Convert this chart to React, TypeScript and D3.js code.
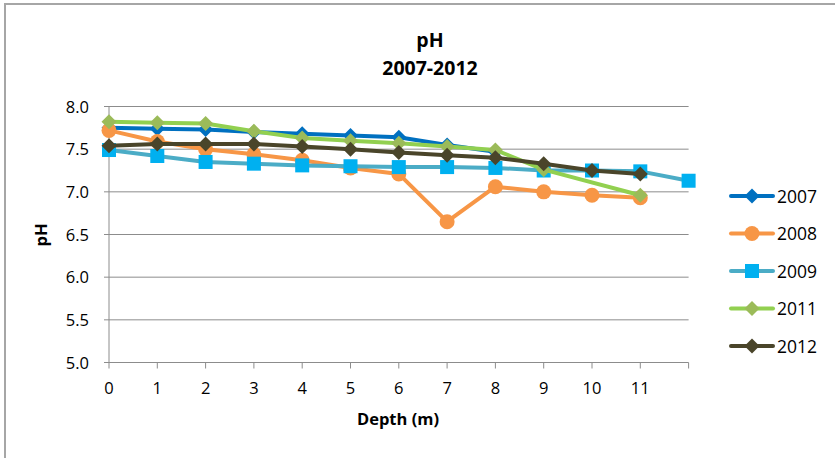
import React from "react";
import * as d3 from "d3";

const depths = ["0", "1", "2", "3", "4", "5", "6", "7", "8", "9", "10", "11", ""];
const yTicks = [5.0, 5.5, 6.0, 6.5, 7.0, 7.5, 8.0];
const ph2007: (number | null)[] = [7.75, 7.74, 7.73, 7.7, 7.68, 7.66, 7.64, 7.55, 7.47];
const ph2008: (number | null)[] = [7.72, 7.59, 7.5, 7.44, 7.37, 7.28, 7.21, 6.65, 7.06, 7.0, 6.96, 6.93];
const ph2009: (number | null)[] = [7.49, 7.42, 7.35, 7.33, 7.31, 7.3, 7.29, 7.29, 7.28, 7.25, 7.25, 7.24, 7.13];
const ph2011: (number | null)[] = [7.82, 7.81, 7.8, 7.71, 7.63, 7.6, 7.57, 7.53, 7.49, 7.26, null, 6.96];
const ph2012: (number | null)[] = [7.54, 7.56, 7.56, 7.56, 7.53, 7.5, 7.46, 7.43, 7.4, 7.33, 7.25, 7.21];

const seriesNames = ["2007", "2008", "2009", "2011", "2012"];
const seriesData = [ph2007, ph2008, ph2009, ph2011, ph2012];
const lineColors = ["#0070C0", "#F79646", "#4BACC6", "#92D050", "#4A452A"];
const markerColors = ["#0070C0", "#F79646", "#00B0F0", "#9BBB59", "#4A452A"];
const markerShapes = ["diamond", "circle", "square", "diamond", "diamond"];

const FONT = "'Open Sans', sans-serif";

function Marker({ shape, x, y, color }: { shape: string; x: number; y: number; color: string }) {
  if (shape === "circle") return <circle cx={x} cy={y} r={7.5} fill={color} />;
  if (shape === "square") return <rect x={x - 7} y={y - 7} width={14} height={14} fill={color} />;
  const s = 7.5;
  return <path d={`M${x},${y - s}L${x + s},${y}L${x},${y + s}L${x - s},${y}Z`} fill={color} />;
}

export default function App() {
  const W = 835, H = 458;
  const x0 = 109, xStep = 48.3;
  const x = d3.scaleLinear().domain([0, depths.length - 1]).range([x0, x0 + xStep * (depths.length - 1)]);
  const y = d3.scaleLinear().domain([5, 8]).range([362.5, 106.5]);
  const xEnd = x(depths.length - 1);

  const line = d3
    .line<[number, number | null]>()
    .x((d) => x(d[0]))
    .y((d) => y(d[1] as number));

  return (
    <svg width={W} height={H} style={{ position: "absolute", left: 0, top: 0 }} fontFamily={FONT}>
      <rect x={0} y={0} width={W} height={H} fill="#fff" />
      <rect x={5} y={4} width={W + 10} height={H + 10} fill="none" stroke="#a6a6a6" strokeWidth={2} />
      <text x={430} y={47} textAnchor="middle" fontSize={19.5} fontWeight="bold" fill="#000">pH</text>
      <text x={430} y={75} textAnchor="middle" fontSize={19.5} fontWeight="bold" fill="#000">2007-2012</text>

      {yTicks.map((t) => (
        <g key={t}>
          <line x1={x0 - 5} x2={t === 5 ? x0 : xEnd} y1={y(t)} y2={y(t)} stroke="#8c8c8c" strokeWidth={1} />
          <text x={89} y={y(t) + 6} textAnchor="end" fontSize={16.5} fill="#000">{t.toFixed(1)}</text>
        </g>
      ))}
      <line x1={x0} x2={x0} y1={y(8)} y2={y(5)} stroke="#8c8c8c" strokeWidth={1} />
      <line x1={x0} x2={xEnd} y1={y(5)} y2={y(5)} stroke="#8c8c8c" strokeWidth={1} />
      {depths.map((d, i) => (
        <g key={i}>
          <line x1={x(i)} x2={x(i)} y1={y(5)} y2={y(5) + 6} stroke="#8c8c8c" strokeWidth={1} />
          <text x={x(i)} y={393.5} textAnchor="middle" fontSize={16.5} fill="#000">{d}</text>
        </g>
      ))}
      <text x={398} y={425} textAnchor="middle" fontSize={16.5} fontWeight="bold" fill="#000">Depth (m)</text>
      <text transform={`translate(47,235) rotate(-90)`} textAnchor="middle" fontSize={16.5} fontWeight="bold" fill="#000">pH</text>

      {seriesData.map((data, si) => {
        const pts = data.map((v, i) => [i, v] as [number, number | null]).filter((p) => p[1] !== null);
        return (
          <g key={si}>
            <path d={line(pts) || ""} fill="none" stroke={lineColors[si]} strokeWidth={4} strokeLinejoin="round" />
            {pts.map((p) => (
              <Marker key={p[0]} shape={markerShapes[si]} x={x(p[0])} y={y(p[1] as number)} color={markerColors[si]} />
            ))}
          </g>
        );
      })}

      {seriesNames.map((n, i) => {
        const ly = 196 + i * 37.5;
        return (
          <g key={n}>
            <line x1={731} x2={773} y1={ly} y2={ly} stroke={lineColors[i]} strokeWidth={4} strokeLinecap="round" />
            <Marker shape={markerShapes[i]} x={752} y={ly} color={markerColors[i]} />
            <text x={777} y={ly + 6.5} fontSize={17.5} fill="#000">{n}</text>
          </g>
        );
      })}
    </svg>
  );
}
